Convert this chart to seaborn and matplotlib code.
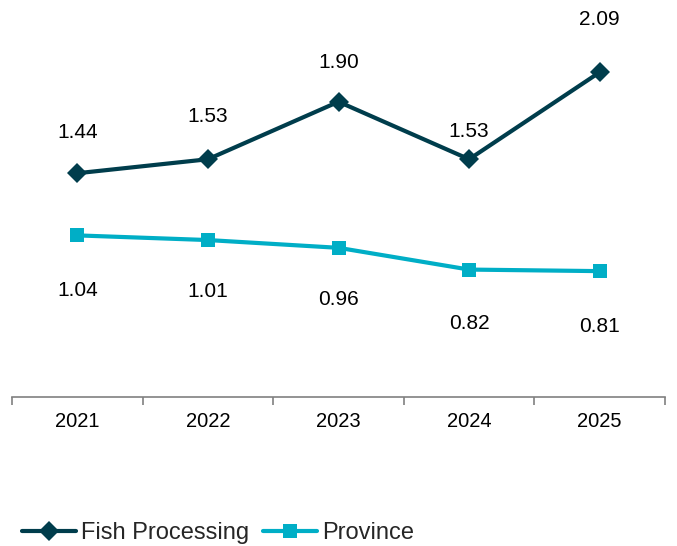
import numpy as np
import pandas as pd
import matplotlib
matplotlib.use('Agg')
import matplotlib.pyplot as plt
from matplotlib.ticker import FixedLocator
from matplotlib.lines import Line2D
import seaborn as sns

years = ['2021', '2022', '2023', '2024', '2025']
fish = [1.44, 1.53, 1.90, 1.53, 2.09]
province = [1.04, 1.01, 0.96, 0.82, 0.81]

# label offsets in points (above fish, below province)
fish_off = [29, 31, 28, 20, 38]
prov_off = [-40, -37, -37, -39, -40]

dark = '#003D4C'
light = '#00AEC6'

df = pd.DataFrame({
    'year': years * 2,
    'value': fish + province,
    'series': ['Fish Processing'] * 5 + ['Province'] * 5,
})

sns.set_theme(style='white')
plt.rcParams['font.family'] = ['Liberation Sans', 'DejaVu Sans']

fig = plt.figure(figsize=(6.77, 5.46), dpi=100)
ax = fig.add_axes([0.0177, 0.2729, 0.9646, 0.7115])

sns.lineplot(data=df, x='year', y='value', hue='series', style='series',
             markers={'Fish Processing': 'D', 'Province': 's'}, dashes=False,
             palette={'Fish Processing': dark, 'Province': light},
             linewidth=3, ax=ax, legend=False)
for line, ms in zip(ax.lines, [10.5, 10.5]):
    line.set_markersize(ms)
    line.set_markeredgewidth(0)

for i, (f, p) in enumerate(zip(fish, province)):
    ax.annotate(f'{f:.2f}', (i, f), xytext=(0, fish_off[i]), textcoords='offset points',
                ha='center', va='center', fontsize=15, color='black')
    ax.annotate(f'{p:.2f}', (i, p), xytext=(0, prov_off[i]), textcoords='offset points',
                ha='center', va='center', fontsize=15, color='black')

ax.set_xlim(-0.5, 4.5)
ax.set_ylim(0, 2.5)
ax.set_xlabel('')
ax.set_ylabel('')
ax.set_yticks([])
for s in ['top', 'right', 'left']:
    ax.spines[s].set_visible(False)
ax.spines['bottom'].set_color('#808080')
ax.spines['bottom'].set_linewidth(1.2)
ax.tick_params(axis='x', which='major', length=0, labelsize=14.5, pad=11, colors='black')
ax.xaxis.set_minor_locator(FixedLocator(np.arange(-0.5, 5, 1)))
ax.tick_params(axis='x', which='minor', bottom=True, length=6, width=1.2,
               color='#808080', direction='out')

handles = [Line2D([], [], color=dark, lw=3, marker='D', ms=10.5, mew=0),
           Line2D([], [], color=light, lw=3, marker='s', ms=10.5, mew=0)]
fig.legend(handles, ['Fish Processing', 'Province'], loc='lower left',
           bbox_to_anchor=(0.011, -0.023), ncol=2, frameon=False, fontsize=17,
           handlelength=2.3, handletextpad=0.2, columnspacing=0.6,
           borderaxespad=0.2)

fig.savefig('out.png', dpi=100)
